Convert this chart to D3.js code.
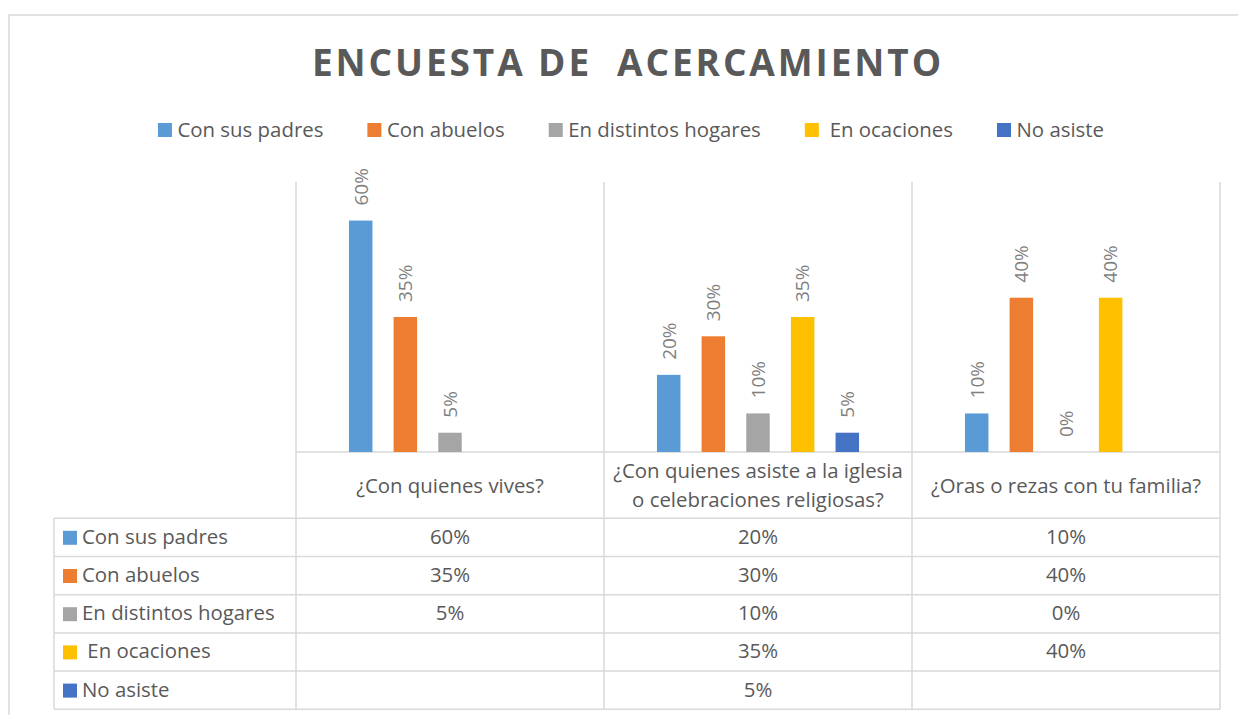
<!DOCTYPE html>
<html>
<head>
<meta charset="utf-8">
<script src="https://cdn.jsdelivr.net/npm/d3@7"></script>
<style>
  html, body { margin: 0; padding: 0; background: #fff; }
  svg { display: block; }
  text { font-family: "Open Sans", "Noto Sans", sans-serif; }
</style>
</head>
<body>
<svg id="chart" width="1238" height="715"></svg>
<script>
// ---- data ----
const title = "ENCUESTA DE  ACERCAMIENTO";
const categories = [
  "¿Con quienes vives?",
  "¿Con quienes asiste a la iglesia\no celebraciones religiosas?",
  "¿Oras o rezas con tu familia?"
];
const seriesNames = ["Con sus padres", "Con abuelos", "En distintos hogares", " En ocaciones", "No asiste"];
const conSusPadres = [0.60, 0.20, 0.10];
const conAbuelos = [0.35, 0.30, 0.40];
const enDistintosHogares = [0.05, 0.10, 0.00];
const enOcaciones = [null, 0.35, 0.40];
const noAsiste = [null, 0.05, null];
const seriesValues = [conSusPadres, conAbuelos, enDistintosHogares, enOcaciones, noAsiste];
const seriesColors = ["#5b9bd5", "#ed7d31", "#a5a5a5", "#ffc000", "#4472c4"];

// ---- layout ----
const svg = d3.select("#chart");
const gridColor = "#d9d9d9";
const textColor = "#595959";
const plot = { left: 296, right: 1220, top: 182, bottom: 452 };
const table = { left: 54, headerBottom: 518.3, rowH: 38.2 };

const x0 = d3.scaleBand().domain(d3.range(categories.length)).range([plot.left, plot.right]);
const x1 = d3.scaleBand().domain(d3.range(seriesNames.length)).range([0, x0.bandwidth()])
  .paddingInner(0.474).paddingOuter(1.186);
const y = d3.scaleLinear().domain([0, 0.7]).range([plot.bottom, plot.top]);
const fmt = d3.format(".0%");

// outer chart border
svg.append("rect").attr("x", 9).attr("y", 15).attr("width", 1260).attr("height", 740)
  .attr("fill", "none").attr("stroke", gridColor).attr("stroke-width", 1.5);

// title
svg.append("text").attr("x", 628).attr("y", 75.5).attr("text-anchor", "middle")
  .attr("fill", textColor).attr("font-size", 37).attr("font-weight", 700)
  .attr("letter-spacing", 2.9).style("white-space", "pre").text(title);

// legend
const legend = svg.append("g");
let lx = 0;
const items = [];
const legendGap = 44;
seriesNames.forEach((name, i) => {
  const g = legend.append("g");
  g.append("rect").attr("x", 0).attr("y", 123).attr("width", 14).attr("height", 14).attr("fill", seriesColors[i]);
  const t = g.append("text").attr("x", 19.5).attr("y", 137).attr("font-size", 20.4).attr("fill", textColor)
    .style("white-space", "pre").text(name);
  const w = 19.5 + t.node().getComputedTextLength();
  items.push({ g, x: lx });
  lx += w + legendGap;
});
const legendW = lx - legendGap;
const legendStart = 631 - legendW / 2;
items.forEach(it => it.g.attr("transform", `translate(${legendStart + it.x},0)`));

// category gridlines (vertical) through plot and table
const bounds = categories.map((c, i) => x0(i)).concat([plot.right]);
const tableBottom = table.headerBottom + table.rowH * seriesNames.length;
svg.append("g").selectAll("line").data(bounds).join("line")
  .attr("x1", d => d).attr("x2", d => d).attr("y1", plot.top).attr("y2", tableBottom)
  .attr("stroke", gridColor).attr("stroke-width", 1.5);

// table left border
svg.append("line").attr("x1", table.left).attr("x2", table.left)
  .attr("y1", table.headerBottom).attr("y2", tableBottom)
  .attr("stroke", gridColor).attr("stroke-width", 1.5);

// horizontal lines
svg.append("line").attr("x1", plot.left).attr("x2", plot.right).attr("y1", plot.bottom).attr("y2", plot.bottom)
  .attr("stroke", gridColor).attr("stroke-width", 1.5);
svg.append("g").selectAll("line").data(d3.range(seriesNames.length + 1)).join("line")
  .attr("x1", table.left).attr("x2", plot.right)
  .attr("y1", d => table.headerBottom + d * table.rowH).attr("y2", d => table.headerBottom + d * table.rowH)
  .attr("stroke", gridColor).attr("stroke-width", 1.5);

// bars + labels
seriesValues.forEach((vals, si) => {
  const data = vals.map((v, ci) => ({ v, ci })).filter(d => d.v !== null);
  svg.append("g").selectAll("rect").data(data).join("rect")
    .attr("x", d => x0(d.ci) + x1(si)).attr("width", x1.bandwidth())
    .attr("y", d => y(d.v)).attr("height", d => y(0) - y(d.v))
    .attr("fill", seriesColors[si]);
  svg.append("g").selectAll("text").data(data).join("text")
    .attr("transform", d => `translate(${x0(d.ci) + x1(si) + x1.bandwidth() / 2},${y(d.v) - 15}) rotate(-90)`)
    .attr("dy", "0.36em").attr("font-size", 19).attr("fill", "#7f7f7f")
    .text(d => fmt(d.v));
});

// table header (category labels)
categories.forEach((c, ci) => {
  const lines = c.split("\n");
  const cx = x0(ci) + x0.bandwidth() / 2;
  const base = lines.length === 1 ? [493] : [478, 506.5];
  lines.forEach((ln, li) => {
    svg.append("text").attr("x", cx).attr("y", base[li]).attr("text-anchor", "middle")
      .attr("font-size", 20.4).attr("fill", textColor).text(ln);
  });
});

// table rows
seriesNames.forEach((name, si) => {
  const top = table.headerBottom + si * table.rowH;
  svg.append("rect").attr("x", 63).attr("y", top + 12.5).attr("width", 14).attr("height", 14).attr("fill", seriesColors[si]);
  svg.append("text").attr("x", 82).attr("y", top + 25.5).attr("font-size", 20.4).attr("fill", textColor)
    .style("white-space", "pre").text(name);
  seriesValues[si].forEach((v, ci) => {
    if (v === null) return;
    svg.append("text").attr("x", x0(ci) + x0.bandwidth() / 2).attr("y", top + 25.5)
      .attr("text-anchor", "middle").attr("font-size", 20.4).attr("fill", textColor).text(fmt(v));
  });
});
</script>
</body>
</html>
